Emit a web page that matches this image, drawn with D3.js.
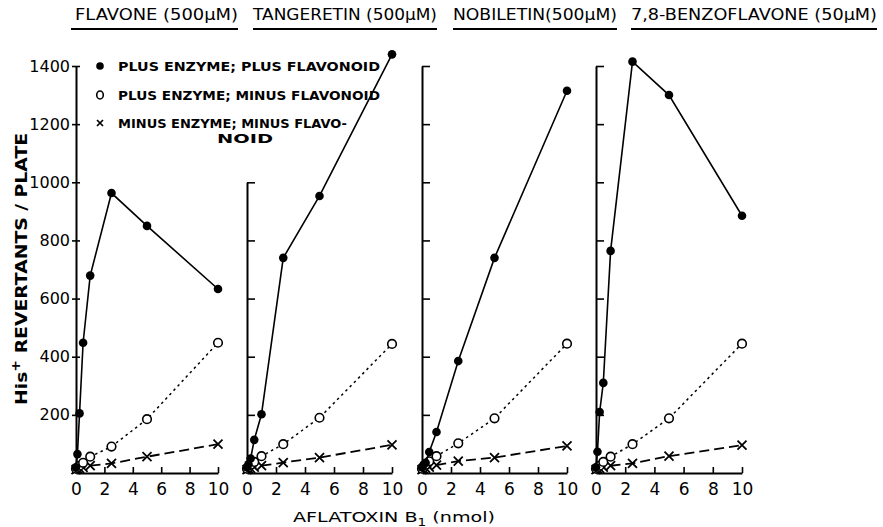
<!DOCTYPE html>
<html>
<head>
<meta charset="utf-8">
<script src="https://cdnjs.cloudflare.com/ajax/libs/d3/7.8.5/d3.min.js"></script>
<style>
  body { margin: 0; background: #fff; }
  text { font-family: "DejaVu Sans", sans-serif; fill: #000; }
</style>
</head>
<body>
<svg></svg>
<script>
const width = 883;
const height = 527;

// data
const doses = [0, 0.1, 0.25, 0.5, 1, 2.5, 5, 10];
const panelTitles = ['FLAVONE (500\u03bcM)', 'TANGERETIN (500\u03bcM)', 'NOBILETIN(500\u03bcM)', '7,8-BENZOFLAVONE (50\u03bcM)'];
const yTicks = [200, 400, 600, 800, 1000, 1200, 1400];
const xTicks = [0, 2, 4, 6, 8, 10];
const yTop = [1400, 1000, 1400, 1400];

// plus enzyme; plus flavonoid
const plusPlus = [
  [20, 65, 205, 448, 679, 963, 850, 633],
  [20, 30, 50, 114, 202, 740, 953, 1440],
  [20, 28, 35, 72, 141, 385, 740, 1315],
  [20, 73, 210, 310, 764, 1415, 1300, 885]
];
// plus enzyme; minus flavonoid
const plusMinus = [
  [15, 18, 25, 35, 56, 91, 185, 448],
  [15, 20, 28, 38, 58, 99, 190, 444],
  [15, 20, 28, 40, 58, 102, 188, 445],
  [15, 18, 25, 38, 56, 99, 188, 445]
];
// minus enzyme; minus flavonoid
const minusMinus = [
  [12, 14, 16, 19, 25, 33, 56, 99],
  [12, 14, 16, 20, 25, 36, 53, 97],
  [12, 14, 17, 20, 27, 41, 53, 93],
  [12, 14, 16, 20, 25, 33, 58, 96]
];

const legendLabels = ['PLUS ENZYME; PLUS FLAVONOID', 'PLUS ENZYME; MINUS FLAVONOID', 'MINUS ENZYME; MINUS FLAVO-'];

// layout
const panelLeft = [76, 247, 422, 596];
const panelWidth = [142, 145, 145, 146];
const titleSpan = [[75, 238], [253, 437], [453, 617], [631, 877]];

const svg = d3.select('svg').attr('width', width).attr('height', height);

const y = d3.scaleLinear().domain([0, 1400]).range([473, 66]);

function drawMarker(g, type, cx, cy) {
  if (type === 'filled') {
    g.append('circle').attr('cx', cx).attr('cy', cy).attr('r', 4.3).attr('fill', '#000');
  } else if (type === 'open') {
    g.append('circle').attr('cx', cx).attr('cy', cy).attr('r', 4.3)
      .attr('fill', '#fff').attr('stroke', '#000').attr('stroke-width', 1.6);
  } else {
    const s = 4.5;
    g.append('path')
      .attr('d', `M${cx - s},${cy - s}L${cx + s},${cy + s}M${cx - s},${cy + s}L${cx + s},${cy - s}`)
      .attr('stroke', '#000').attr('stroke-width', 1.8).attr('fill', 'none');
  }
}

const seriesDefs = [
  { values: minusMinus, type: 'cross', dash: '10,5', sw: 1.8 },
  { values: plusMinus, type: 'open', dash: '2.5,3.5', sw: 1.5 },
  { values: plusPlus, type: 'filled', dash: null, sw: 1.6 }
];

panelTitles.forEach((title, i) => {
  const x = d3.scaleLinear().domain([0, 10]).range([panelLeft[i], panelLeft[i] + panelWidth[i]]);
  const yp = d3.scaleLinear().domain([0, yTop[i]]).range([y(0), y(yTop[i])]);
  const g = svg.append('g');

  // title + underline
  const [t0, t1] = titleSpan[i];
  g.append('text').attr('x', t0).attr('y', 20)
    .attr('font-size', 15)
    .attr('textLength', t1 - t0).attr('lengthAdjust', 'spacingAndGlyphs')
    .text(title);
  g.append('line').attr('x1', t0 - (i === 0 ? 4 : 0)).attr('x2', t1)
    .attr('y1', 29).attr('y2', 29).attr('stroke', '#000').attr('stroke-width', 1.8);

  // x axis
  const xAxis = g.append('g').attr('transform', `translate(0,${y(0)})`)
    .call(d3.axisBottom(x).tickValues(xTicks).tickSizeInner(-6).tickSizeOuter(0).tickPadding(10));
  xAxis.select('.domain').attr('stroke-width', 2);
  xAxis.selectAll('.tick line').attr('stroke-width', 1.6);
  xAxis.selectAll('.tick text').attr('font-size', 17).style('font-family', '"DejaVu Sans", sans-serif');

  // y axis
  const yAxisG = g.append('g').attr('transform', `translate(${panelLeft[i]},0)`);
  if (i === 0) {
    yAxisG.call(d3.axisLeft(yp).tickValues(yTicks).tickFormat(d3.format('d'))
      .tickSizeInner(4).tickSizeOuter(0).tickPadding(2));
    yAxisG.selectAll('.tick line').attr('x1', 4);
    yAxisG.selectAll('.tick text').attr('font-size', 16).style('font-family', '"DejaVu Sans", sans-serif');
  } else {
    yAxisG.call(d3.axisLeft(yp).tickValues(yTicks.filter(v => v <= yTop[i])).tickSizeInner(-8).tickSizeOuter(0).tickFormat(''));
  }
  yAxisG.select('.domain').attr('stroke-width', 2);
  yAxisG.selectAll('.tick line').attr('stroke-width', 1.6);

  // series
  seriesDefs.forEach(s => {
    const pts = doses.map((d, k) => [d, s.values[i][k]]);
    const line = d3.line().x(d => x(d[0])).y(d => y(d[1]));
    const p = g.append('path').datum(pts).attr('d', line)
      .attr('fill', 'none').attr('stroke', '#000').attr('stroke-width', s.sw);
    if (s.dash) p.attr('stroke-dasharray', s.dash);
    pts.forEach(d => drawMarker(g, s.type, x(d[0]), y(d[1])));
  });
});

// legend
const legend = svg.append('g');
const legendTypes = ['filled', 'open', 'cross'];
const legendY = [66, 95, 123];
const legendLen = [262, 262, 229];
legendLabels.forEach((lab, k) => {
  if (legendTypes[k] === 'open') {
    legend.append('ellipse').attr('cx', 100).attr('cy', legendY[k]).attr('rx', 3.3).attr('ry', 4)
      .attr('fill', 'none').attr('stroke', '#000').attr('stroke-width', 1.6);
  } else if (legendTypes[k] === 'filled') {
    legend.append('circle').attr('cx', 100).attr('cy', legendY[k]).attr('r', 3.8).attr('fill', '#000');
  } else {
    legend.append('path').attr('d', `M97,${legendY[k] - 3}L103,${legendY[k] + 3}M97,${legendY[k] + 3}L103,${legendY[k] - 3}`)
      .attr('stroke', '#000').attr('stroke-width', 1.7);
  }
  legend.append('text').attr('x', 118).attr('y', legendY[k] + 4.5)
    .attr('font-size', 12).attr('font-weight', 'bold')
    .attr('textLength', legendLen[k]).attr('lengthAdjust', 'spacingAndGlyphs')
    .text(lab);
});
legend.append('text').attr('x', 217).attr('y', 143)
  .attr('font-size', 12).attr('font-weight', 'bold')
  .attr('textLength', 56).attr('lengthAdjust', 'spacingAndGlyphs')
  .text('NOID');

// axis titles
const yLabel = svg.append('text')
  .attr('transform', 'translate(27,269) rotate(-90)')
  .attr('text-anchor', 'middle')
  .attr('font-size', 16).attr('font-weight', 'bold')
  .attr('textLength', 272).attr('lengthAdjust', 'spacingAndGlyphs');
yLabel.append('tspan').text('His');
yLabel.append('tspan').attr('dy', -7).attr('font-size', 12).text('+');
yLabel.append('tspan').attr('dy', 7).text(' REVERTANTS / PLATE');

const xLabel = svg.append('text')
  .attr('x', 293).attr('y', 522)
  .attr('font-size', 14)
  .attr('textLength', 202).attr('lengthAdjust', 'spacingAndGlyphs');
xLabel.append('tspan').text('AFLATOXIN B');
xLabel.append('tspan').attr('dy', 4).attr('font-size', 10).text('1');
xLabel.append('tspan').attr('dy', -4).text(' (nmol)');
</script>
</body>
</html>
